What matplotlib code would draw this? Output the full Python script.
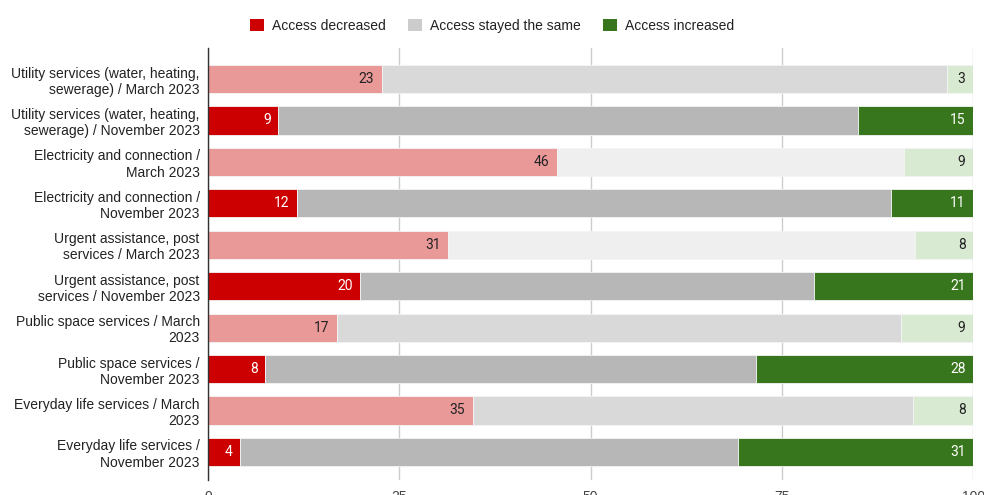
import numpy as np
import matplotlib.pyplot as plt
from matplotlib.patches import Patch

categories = [
    'Utility services (water, heating,\nsewerage) / March 2023',
    'Utility services (water, heating,\nsewerage) / November 2023',
    'Electricity and connection /\nMarch 2023',
    'Electricity and connection /\nNovember 2023',
    'Urgent assistance, post\nservices / March 2023',
    'Urgent assistance, post\nservices / November 2023',
    'Public space services / March\n2023',
    'Public space services /\nNovember 2023',
    'Everyday life services / March\n2023',
    'Everyday life services /\nNovember 2023',
]
decreased = [22.7, 9.2, 45.6, 11.6, 31.4, 19.9, 16.9, 7.5, 34.6, 4.2]
same = [73.9, 75.8, 45.4, 77.6, 61.0, 59.3, 73.7, 64.1, 57.6, 65.1]
increased = [3.4, 15.0, 9.0, 10.8, 7.6, 20.8, 9.4, 28.4, 7.8, 30.7]

legend_labels = ['Access decreased', 'Access stayed the same', 'Access increased']
ticks = [0, 25, 50, 75, 100]

# per-bar colours (March rows are the pale variants)
red_cols = ['#ea9999', '#cc0000'] * 5
gray_cols = ['#d9d9d9', '#b7b7b7', '#efefef', '#b7b7b7', '#efefef',
             '#b7b7b7', '#d9d9d9', '#b7b7b7', '#d9d9d9', '#b7b7b7']
green_cols = ['#d9ead3', '#38761d'] * 5
txt_cols = ['#222222', 'white'] * 5

plt.rcParams['font.family'] = ['Liberation Sans', 'DejaVu Sans']

fig = plt.figure(figsize=(9.84, 4.95), dpi=100)
ax = fig.add_axes([0.2114, 0.0303, 0.7776, 0.8727])

y = np.arange(len(categories))
dec = np.array(decreased)
sam = np.array(same)
inc = np.array(increased)
h = 0.68
ax.barh(y, dec, height=h, color=red_cols, edgecolor='#f4f4f4', linewidth=0.6, zorder=3)
ax.barh(y, sam, left=dec, height=h, color=gray_cols, edgecolor='#f4f4f4', linewidth=0.6, zorder=3)
ax.barh(y, inc, left=dec + sam, height=h, color=green_cols, edgecolor='#f4f4f4', linewidth=0.6, zorder=3)

for i in range(len(categories)):
    ax.text(dec[i] - 1.0, y[i], f'{round(dec[i])}', ha='right', va='center',
            fontsize=10, color=txt_cols[i], family='Roboto', zorder=4)
    ax.text(dec[i] + sam[i] + inc[i] - 1.0, y[i], f'{round(inc[i])}', ha='right', va='center',
            fontsize=10, color=txt_cols[i], family='Roboto', zorder=4)

ax.set_xlim(0, 100)
ax.set_ylim(len(categories) - 1 + 0.68, -0.75)
ax.set_yticks(y)
ax.set_yticklabels(categories, fontsize=10, color='#222222')
ax.set_xticks(ticks)
ax.set_xticklabels([str(t) for t in ticks], fontsize=10, color='#444444')
ax.tick_params(axis='both', length=0, pad=7)
ax.tick_params(axis='y', pad=6)
ax.grid(axis='x', color='#cccccc', linewidth=1, zorder=0)
for s in ['top', 'right', 'bottom']:
    ax.spines[s].set_visible(False)
ax.spines['left'].set_color('#333333')
ax.spines['left'].set_linewidth(1)
ax.spines['left'].set_zorder(5)

handles = [Patch(facecolor=c) for c in ['#cc0000', '#cccccc', '#38761d']]
fig.legend(handles, legend_labels, loc='center', bbox_to_anchor=(0.5, 0.948), ncol=3,
           frameon=False, fontsize=10, handlelength=1.0, handleheight=1.0,
           handletextpad=0.6, columnspacing=1.6, labelcolor='#222222')

fig.savefig('out.png', dpi=100)
